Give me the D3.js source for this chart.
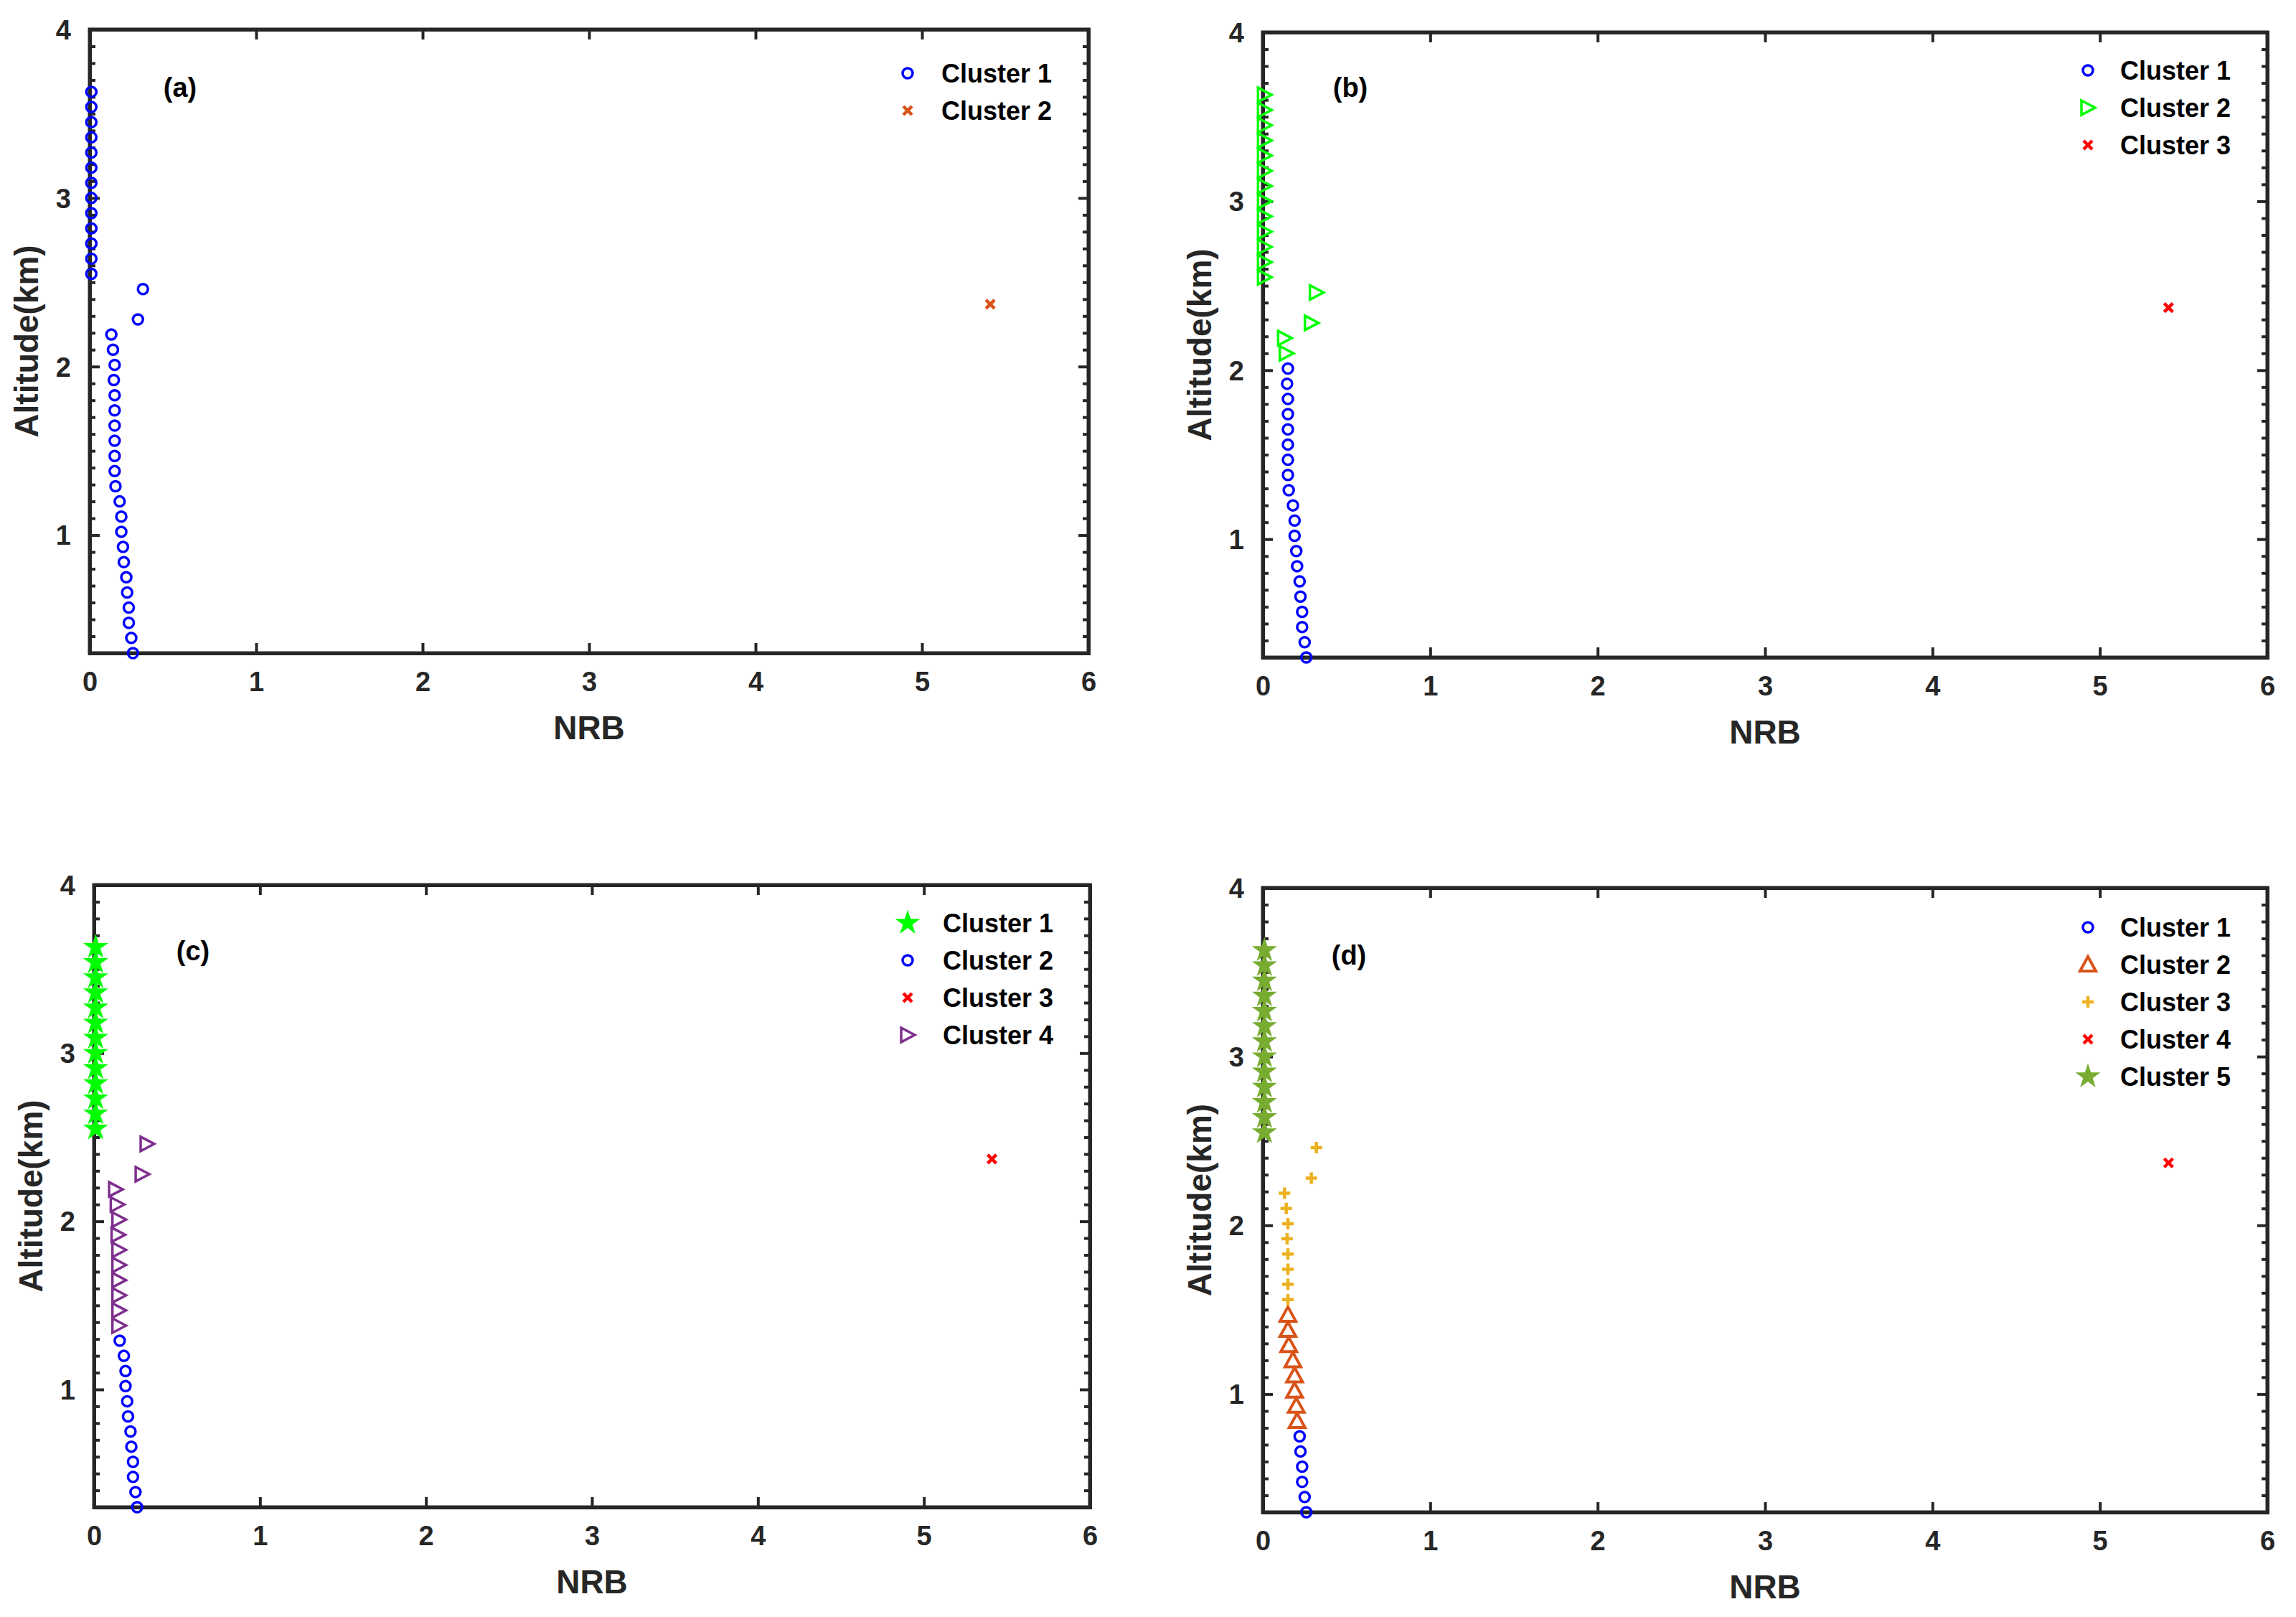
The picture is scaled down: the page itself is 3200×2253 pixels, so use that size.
<!DOCTYPE html>
<html><head><meta charset="utf-8">
<script src="https://cdn.jsdelivr.net/npm/d3@7"></script>
<style>body{margin:0;background:#fff}</style></head>
<body><svg id="c" width="3200" height="2253"></svg>
<script>
// Altitude profile (km) and NRB values, bottom to top
const altitude = [0.30,0.39,0.48,0.57,0.66,0.75,0.84,0.93,1.02,1.11,1.20,1.29,1.38,1.47,1.56,1.65,1.74,1.83,1.92,2.01,2.10,2.19,2.28,2.37,2.46,2.55,2.64,2.73,2.82,2.91,3.00,3.09,3.18,3.27,3.36,3.45,3.54,3.63];
const nrb = [0.26,0.25,0.235,0.235,0.225,0.22,0.205,0.20,0.19,0.19,0.18,0.155,0.15,0.15,0.15,0.15,0.15,0.15,0.145,0.15,0.14,0.13,0.29,5.41,0.32,0.01,0.01,0.01,0.01,0.01,0.01,0.01,0.01,0.01,0.01,0.01,0.01,0.01];
// cluster labels per point (1-based) for each panel
const labelsA = altitude.map((a,i)=> i===23 ? 2 : 1);
const labelsB = altitude.map((a,i)=> i===23 ? 3 : (i<=19 ? 1 : 2));
const labelsC = altitude.map((a,i)=> i===23 ? 3 : (i>=25 ? 1 : (i<=11 ? 2 : 4)));
const labelsD = altitude.map((a,i)=> i===23 ? 4 : (i>=25 ? 5 : (i<=5 ? 1 : (i<=13 ? 2 : 3))));
const xTicks = [0,1,2,3,4,5,6];
const yTicks = [1,2,3,4];
const panelNames = ["(a)","(b)","(c)","(d)"];

const B="#0000ff",O="#d95319",G="#00ff00",R="#ff0000",P="#7e2f8e",Y="#edb120",V="#77ac30";
const panels = [
  {labels:labelsA, box:[125,1517,41,910], lab:[251,122], leg:[1265,1312,102],
   styles:{1:["circle",B],2:["x",O]}},
  {labels:labelsB, box:[1760,3160,45,916], lab:[1882,122], leg:[2910,2955,98],
   styles:{1:["circle",B],2:["tri-right",G],3:["x",R]}},
  {labels:labelsC, box:[131,1519,1233,2100], lab:[269,1325], leg:[1265,1314,1286],
   styles:{1:["star",G],2:["circle",B],3:["x",R],4:["tri-right",P]}},
  {labels:labelsD, box:[1760,3160,1237,2107], lab:[1880,1331], leg:[2910,2955,1292],
   styles:{1:["circle",B],2:["tri-up",O],3:["plus",Y],4:["x",R],5:["star",V]}}
];
const svg = d3.select("#c");
const narrow = "'Liberation Sans Narrow','Arial Narrow','Liberation Sans',Arial,sans-serif";
const bold = "'Liberation Sans',Arial,sans-serif";

function drawMarker(g, type, color, x, y, s){
  s = s||1;
  if(type==="circle") g.append("circle").attr("cx",x).attr("cy",y).attr("r",7*s).attr("fill","none").attr("stroke",color).attr("stroke-width",3.5);
  else if(type==="x") g.append("path").attr("d",`M${x-6},${y-6}L${x+6},${y+6}M${x-6},${y+6}L${x+6},${y-6}`).attr("stroke",color).attr("stroke-width",4.5);
  else if(type==="plus") g.append("path").attr("d",`M${x-8},${y}L${x+8},${y}M${x},${y-8}L${x},${y+8}`).attr("stroke",color).attr("stroke-width",4.5);
  else if(type==="tri-right") g.append("path").attr("d",`M${x-9},${y-10}L${x+10},${y}L${x-9},${y+10}Z`).attr("fill","none").attr("stroke",color).attr("stroke-width",3.5);
  else if(type==="tri-up") g.append("path").attr("d",`M${x},${y-11}L${x+11},${y+9}L${x-11},${y+9}Z`).attr("fill","none").attr("stroke",color).attr("stroke-width",4);
  else if(type==="star") g.append("path").attr("d",d3.symbol().type(d3.symbolStar).size(380)()).attr("transform",`translate(${x},${y})`).attr("fill",color);
}

panels.forEach((p,pi)=>{
  const [x0,x1,y0,y1] = p.box;
  const x = d3.scaleLinear().domain([0,6]).range([x0,x1]);
  const y = d3.scaleLinear().domain([0.3,4]).range([y1,y0]);
  const g = svg.append("g");
  // axes
  const ax = g.append("g").attr("transform",`translate(0,${y1})`).call(d3.axisBottom(x).tickValues(xTicks).tickSize(-14).tickPadding(26).tickFormat(d3.format("d")));
  const axT = g.append("g").attr("transform",`translate(0,${y0})`).call(d3.axisTop(x).tickValues(xTicks).tickSize(-14).tickFormat(""));
  const ay = g.append("g").attr("transform",`translate(${x0},0)`).call(d3.axisLeft(y).tickValues(yTicks).tickSize(-14).tickPadding(26).tickFormat(d3.format("d")));
  const minor = d3.range(4,40).map(v=>v/10).filter(v=>!yTicks.includes(v) && v>0.3);
  const aym = g.append("g").attr("transform",`translate(${x0},0)`).call(d3.axisLeft(y).tickValues(minor).tickSize(-8).tickFormat(""));
  const ayR = g.append("g").attr("transform",`translate(${x1},0)`).call(d3.axisRight(y).tickValues(yTicks).tickSize(-14).tickFormat(""));
  const ayRm = g.append("g").attr("transform",`translate(${x1},0)`).call(d3.axisRight(y).tickValues(minor).tickSize(-8).tickFormat(""));
  [ax,axT,ay,aym,ayR,ayRm].forEach(a=>{
    a.select(".domain").attr("stroke","#262626").attr("stroke-width",5);
    a.selectAll(".tick line").attr("stroke","#262626").attr("stroke-width",4);
    a.selectAll("text").attr("font-family",narrow).attr("font-weight","bold").attr("font-size",38).attr("fill","#262626");
  });
  g.append("rect").attr("x",x0).attr("y",y0).attr("width",x1-x0).attr("height",y1-y0).attr("fill","none").attr("stroke","#262626").attr("stroke-width",5);
  ay.selectAll("text").attr("dy","0.35em");
  // titles
  g.append("text").attr("x",(x0+x1)/2).attr("y",y1+120).attr("text-anchor","middle").attr("font-family",narrow).attr("font-weight","bold").attr("font-size",46).attr("fill","#262626").text("NRB");
  g.append("text").attr("transform",`translate(${x0-72},${(y0+y1)/2}) rotate(-90)`).attr("text-anchor","middle").attr("font-family",narrow).attr("font-weight","bold").attr("font-size",46).attr("fill","#262626").text("Altitude(km)");
  g.append("text").attr("x",p.lab[0]).attr("y",p.lab[1]).attr("text-anchor","middle").attr("dy","0.35em").attr("font-family",bold).attr("font-weight","bold").attr("font-size",38).text(panelNames[pi]);
  // points
  altitude.forEach((a,i)=>{
    const st = p.styles[p.labels[i]];
    drawMarker(g, st[0], st[1], x(nrb[i]), y(a));
  });
  // legend
  Object.keys(p.styles).forEach((k,j)=>{
    const yy = p.leg[2] + j*52;
    drawMarker(g, p.styles[k][0], p.styles[k][1], p.leg[0], yy);
    g.append("text").attr("x",p.leg[1]).attr("y",yy).attr("dy","0.35em").attr("font-family",bold).attr("font-weight","bold").attr("font-size",36).text("Cluster "+k);
  });
});
</script></body></html>
